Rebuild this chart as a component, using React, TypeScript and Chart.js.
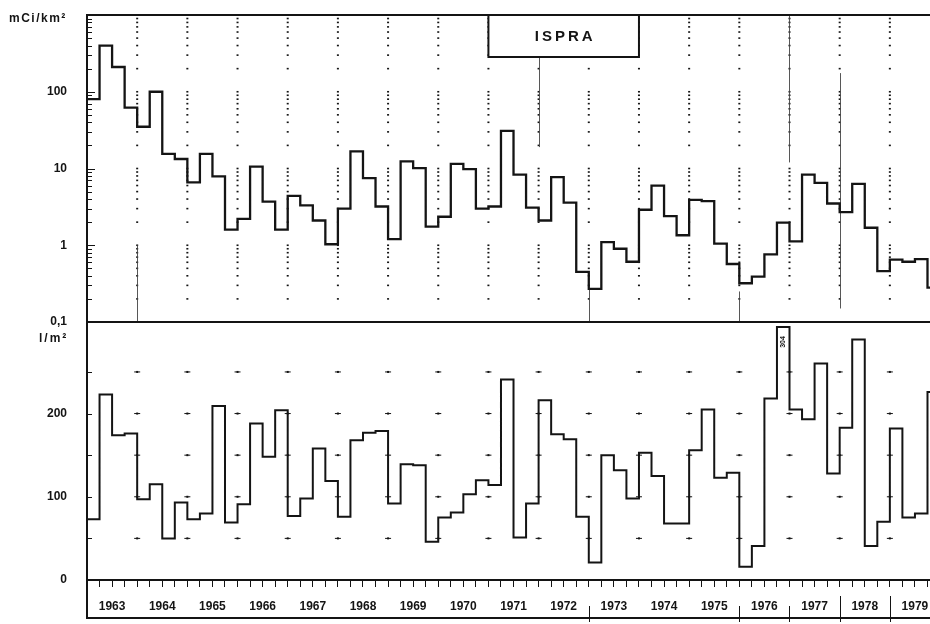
import React, { useEffect, useRef } from "react";
import { Chart, registerables } from "chart.js";

Chart.register(...registerables);

// Quarterly series, 1963 Q1 .. 1979 Q4
const YEARS = [
  "1963", "1964", "1965", "1966", "1967", "1968", "1969", "1970", "1971",
  "1972", "1973", "1974", "1975", "1976", "1977", "1978", "1979",
];

// Deposition, mCi/km² (log panel)
const deposition = [
  80, 400, 210, 62,
  35, 100, 15.5, 13.3,
  6.6, 15.5, 7.9, 1.6,
  2.2, 10.6, 3.7, 1.6,
  4.4, 3.3, 2.1, 1.03,
  3.0, 16.7, 7.5, 3.2,
  1.2, 12.4, 10.1, 1.75,
  2.35, 11.5, 9.8, 3.0,
  3.2, 31, 8.3, 3.1,
  2.1, 7.7, 3.6, 0.45,
  0.27, 1.1, 0.9, 0.61,
  2.9, 6.0, 2.4, 1.35,
  3.9, 3.75, 1.05, 0.57,
  0.32, 0.39, 0.76, 1.97,
  1.12, 8.3, 6.5, 3.5,
  2.7, 6.3, 1.69, 0.46,
  0.65, 0.61, 0.66, 0.28,
];

// Precipitation, l/m² (linear panel)
const precipitation = [
  73, 223, 174, 176,
  97, 115, 50, 93,
  73, 80, 209, 69,
  91, 188, 148, 204,
  77, 98, 158, 119,
  76, 168, 177, 179,
  92, 139, 138, 46,
  75, 81, 103, 120,
  114, 241, 51, 92,
  216, 175, 169, 76,
  21, 150, 132, 98,
  153, 125, 68, 68,
  156, 205, 123, 129,
  16, 41, 218, 304,
  205, 193, 260, 128,
  183, 289, 41, 70,
  182, 75, 80, 226,
];

const STATION = "ISPRA";
const TOP_UNIT = "mCi/km²";
const BOTTOM_UNIT = "l/m²";

const topLabelValues = [0.1, 1, 10, 100];
const topRange = [0.1, 1000];
const logMantissas = [1, 2, 3, 4, 5, 6, 7, 8, 9];
const logDecades = [-1, 0, 1, 2];

const bottomLabelValues = [0, 100, 200];
const bottomMarkValues = [50, 100, 150, 200, 250];
const bottomRange = [0, 310];

// quarter index of the value printed beside its step
const annotatedQuarter = 55;

// thin vertical rules along some year boundaries of the log panel
const yearRules = [
  { q: 4, from: 0.1, to: 1.0 },
  { q: 36, from: 19, to: 280 },
  { q: 40, from: 0.1, to: 0.27 },
  { q: 52, from: 0.1, to: 0.25 },
  { q: 56, from: 12, to: 1000 },
  { q: 60, from: 0.15, to: 175 },
];

// separators drawn in the year-label band
const labelSeparators = [
  { q: 40, full: false },
  { q: 52, full: false },
  { q: 56, full: false },
  { q: 60, full: true },
  { q: 64, full: true },
];

const X_MAX = 67.2;
const INK = "#141414";
const FONT = "'Liberation Sans', Arial, sans-serif";

function toSteps(values: number[]) {
  const pts = values.map((v, i) => ({ x: i, y: v }));
  pts.push({ x: values.length, y: values[values.length - 1] });
  return pts;
}

function noPadding(s: any) {
  s.paddingTop = 0;
  s.paddingBottom = 0;
  s.paddingLeft = 0;
  s.paddingRight = 0;
}

const panelPlugin = {
  id: "panelDecor",
  beforeDatasetsDraw(chart: any) {
    const { ctx, scales } = chart;
    const xs = scales.x;
    const yt = scales.yTop;
    const yb = scales.yBot;
    ctx.save();
    ctx.fillStyle = INK;

    // dotted year columns on the log panel
    for (let q = 4; q < deposition.length; q += 4) {
      const px = xs.getPixelForValue(q);
      for (const d of logDecades) {
        for (const m of logMantissas) {
          const py = yt.getPixelForValue(m * Math.pow(10, d));
          ctx.fillRect(px - 1, py - 0.8, 2, 1.6);
        }
      }
    }

    // thin rules
    ctx.strokeStyle = "#444";
    ctx.lineWidth = 0.9;
    for (const r of yearRules) {
      const px = Math.round(xs.getPixelForValue(r.q)) + 0.5;
      ctx.beginPath();
      ctx.moveTo(px, yt.getPixelForValue(r.from));
      ctx.lineTo(px, yt.getPixelForValue(r.to));
      ctx.stroke();
    }

    // small marks on the linear panel
    for (let q = 4; q < precipitation.length; q += 4) {
      const px = xs.getPixelForValue(q);
      for (const v of bottomMarkValues) {
        const py = yb.getPixelForValue(v);
        ctx.fillRect(px - 1, py - 1, 2, 2);
        ctx.fillRect(px - 3, py - 0.5, 6, 1);
      }
    }

    // inward ticks on the left axes
    ctx.strokeStyle = INK;
    ctx.lineWidth = 1;
    const left = chart.chartArea.left;
    for (const d of logDecades) {
      for (const m of logMantissas) {
        const py = Math.round(yt.getPixelForValue(m * Math.pow(10, d))) + 0.5;
        ctx.beginPath();
        ctx.moveTo(left, py);
        ctx.lineTo(left + (m === 1 ? 8 : 5), py);
        ctx.stroke();
      }
    }
    for (const v of bottomMarkValues) {
      const py = Math.round(yb.getPixelForValue(v)) + 0.5;
      ctx.beginPath();
      ctx.moveTo(left, py);
      ctx.lineTo(left + 5, py);
      ctx.stroke();
    }
    ctx.restore();
  },
  afterDraw(chart: any) {
    const { ctx, scales, chartArea } = chart;
    const xs = scales.x;
    const yt = scales.yTop;
    const yb = scales.yBot;
    const left = chartArea.left;
    const right = chart.width;
    ctx.save();
    ctx.strokeStyle = INK;
    ctx.fillStyle = INK;

    // frame: top edge and the rule between the panels
    ctx.lineWidth = 2;
    ctx.beginPath();
    ctx.moveTo(left - 1, yt.top);
    ctx.lineTo(right, yt.top);
    ctx.moveTo(left - 1, yt.bottom);
    ctx.lineTo(right, yt.bottom);
    ctx.stroke();

    // frame around the year-label band
    const bandBottom = xs.bottom - 6;
    ctx.beginPath();
    ctx.moveTo(left, xs.top);
    ctx.lineTo(left, bandBottom);
    ctx.lineTo(right, bandBottom);
    ctx.stroke();

    ctx.lineWidth = 1;
    for (const s of labelSeparators) {
      const px = Math.round(xs.getPixelForValue(s.q)) + 0.5;
      ctx.beginPath();
      ctx.moveTo(px, s.full ? xs.top + 16 : xs.top + 26);
      ctx.lineTo(px, bandBottom + 4);
      ctx.stroke();
    }

    // station box
    const bx0 = xs.getPixelForValue(32);
    const bx1 = xs.getPixelForValue(44);
    const by0 = yt.top;
    const by1 = yt.top + 42;
    ctx.fillStyle = "#fff";
    ctx.fillRect(bx0, by0, bx1 - bx0, by1 - by0);
    ctx.lineWidth = 2;
    ctx.strokeRect(bx0, by0, bx1 - bx0, by1 - by0);
    ctx.fillStyle = INK;
    ctx.font = `bold 15px ${FONT}`;
    (ctx as any).letterSpacing = "3px";
    ctx.textAlign = "center";
    ctx.textBaseline = "middle";
    ctx.fillText(STATION, (bx0 + bx1) / 2 + 1.5, (by0 + by1) / 2 + 1);

    // unit captions
    ctx.textAlign = "left";
    ctx.textBaseline = "alphabetic";
    ctx.font = `bold 12px ${FONT}`;
    (ctx as any).letterSpacing = "1.5px";
    ctx.fillText(TOP_UNIT, 9, yt.top + 7);
    (ctx as any).letterSpacing = "2px";
    ctx.fillText(BOTTOM_UNIT, 39, yb.top + 20);
    (ctx as any).letterSpacing = "0px";

    // value printed beside the tallest step
    const ax = xs.getPixelForValue(annotatedQuarter + 0.5);
    ctx.save();
    ctx.translate(ax, yb.top + 20);
    ctx.rotate(-Math.PI / 2);
    ctx.font = `bold 7px ${FONT}`;
    ctx.textAlign = "center";
    ctx.textBaseline = "middle";
    ctx.fillText(String(precipitation[annotatedQuarter]), 0, 0);
    ctx.restore();

    ctx.restore();
  },
};

export default function App() {
  const canvasRef = useRef<HTMLCanvasElement>(null);

  useEffect(() => {
    const canvas = canvasRef.current;
    if (!canvas) return;
    const chart = new Chart(canvas, {
      type: "line",
      data: {
        datasets: [
          {
            data: toSteps(deposition),
            xAxisID: "x",
            yAxisID: "yTop",
            stepped: true,
            borderColor: INK,
            borderWidth: 2.3,
            pointRadius: 0,
            fill: false,
          },
          {
            data: toSteps(precipitation),
            xAxisID: "x",
            yAxisID: "yBot",
            stepped: true,
            borderColor: INK,
            borderWidth: 2,
            pointRadius: 0,
            fill: false,
          },
        ],
      },
      options: {
        responsive: false,
        animation: false,
        devicePixelRatio: 1,
        layout: { padding: { top: 15, left: 0, right: 0, bottom: 0 } },
        plugins: {
          legend: { display: false },
          tooltip: { enabled: false },
          title: { display: false },
        },
        scales: {
          x: {
            type: "linear",
            position: "bottom",
            min: 0,
            max: X_MAX,
            afterFit: (s: any) => {
              s.height = 44;
              noPadding(s);
            },
            grid: {
              drawOnChartArea: false,
              drawTicks: true,
              tickLength: 7,
              color: INK,
              lineWidth: 1,
            },
            border: { display: true, color: INK, width: 2 },
            ticks: {
              stepSize: 1,
              autoSkip: false,
              includeBounds: false,
              maxRotation: 0,
              minRotation: 0,
              padding: 12,
              color: INK,
              font: { family: FONT, size: 12, weight: "bold" },
              callback: (v: any) => {
                const n = Number(v);
                if (!Number.isInteger(n) || n % 4 !== 2) return "";
                return YEARS[(n - 2) / 4] ?? "";
              },
            },
          },
          // the later scale of a stack is laid out above the earlier one
          yBot: {
            type: "linear",
            position: "left",
            stack: "panels",
            stackWeight: 258,
            min: bottomRange[0],
            max: bottomRange[1],
            afterFit: (s: any) => {
              s.width = 87;
              noPadding(s);
            },
            afterBuildTicks: (s: any) => {
              s.ticks = bottomLabelValues.map((v) => ({ value: v }));
            },
            grid: { display: false, drawTicks: false },
            border: { display: true, color: INK, width: 2 },
            ticks: {
              autoSkip: false,
              padding: 20,
              color: INK,
              font: { family: FONT, size: 12, weight: "bold" },
              callback: (v: any) => String(v),
            },
          },
          yTop: {
            type: "logarithmic",
            position: "left",
            stack: "panels",
            stackWeight: 307,
            min: topRange[0],
            max: topRange[1],
            afterFit: (s: any) => {
              s.width = 87;
              noPadding(s);
            },
            afterBuildTicks: (s: any) => {
              s.ticks = topLabelValues.map((v) => ({ value: v, major: true }));
            },
            grid: { display: false, drawTicks: false },
            border: { display: true, color: INK, width: 2 },
            ticks: {
              autoSkip: false,
              padding: 20,
              color: INK,
              font: { family: FONT, size: 12, weight: "bold" },
              callback: (v: any) => (Number(v) < 1 ? "0,1" : String(Math.round(Number(v)))),
            },
          },
        },
      } as any,
      plugins: [panelPlugin],
    });
    return () => chart.destroy();
  }, []);

  return (
    <div
      style={{
        position: "fixed",
        left: 0,
        top: 0,
        width: 930,
        height: 624,
        background: "#fff",
        overflow: "hidden",
      }}
    >
      <canvas
        ref={canvasRef}
        width={930}
        height={624}
        style={{ display: "block", width: 930, height: 624 }}
      />
    </div>
  );
}
